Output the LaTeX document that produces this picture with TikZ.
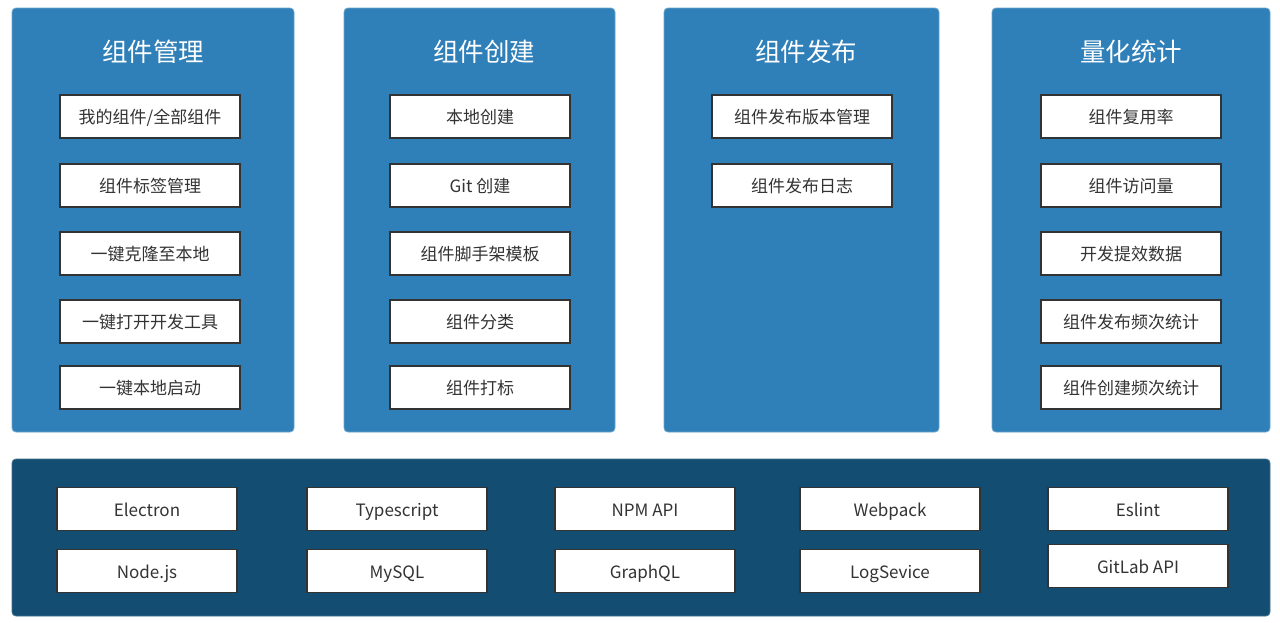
\documentclass[tikz,border=0pt]{standalone}
\usepackage{fontspec}
\setmainfont{Noto Sans CJK SC}
\definecolor{panelblue}{HTML}{2F7FB8}
\definecolor{paneldark}{HTML}{134D72}
\definecolor{boxedge}{HTML}{333333}
\definecolor{txt}{HTML}{333333}
\begin{document}
\begin{tikzpicture}[x=1pt,y=-1pt,
  panel/.style={fill=panelblue,draw=panelblue!70!white,line width=0.8pt,rounded corners=4pt},
  basepanel/.style={fill=paneldark,draw=paneldark!80!white,line width=0.8pt,rounded corners=4pt},
  title/.style={text=white,font=\fontsize{25.5}{28}\selectfont},
  item/.style={draw=boxedge,line width=1.8pt,fill=white,minimum width=180pt,minimum height=43pt,inner sep=0pt,text=txt,text height=14.5pt,text depth=0.5pt,font=\fontsize{17}{19}\selectfont}]
\useasboundingbox (0,0) rectangle (1280,622);
\fill[white] (0,0) rectangle (1280,622);
% panels
\draw[panel] (12,8) rectangle (294,432);
\draw[panel] (344,8) rectangle (615,432);
\draw[panel] (664,8) rectangle (939,432);
\draw[panel] (992,8) rectangle (1270,432);
\draw[basepanel] (12,459) rectangle (1270,616);
% titles
\node[title] (t1) at (153,52) {组件管理};
\node[title] (t2) at (484,52) {组件创建};
\node[title] (t3) at (806,52) {组件发布};
\node[title] (t4) at (1131,52) {量化统计};
% column 1
\node[item] (a1) at (150,116.5) {我的组件/全部组件};
\node[item] (a2) at (150,185.5) {组件标签管理};
\node[item] (a3) at (150,253.5) {一键克隆至本地};
\node[item] (a4) at (150,321.5) {一键打开开发工具};
\node[item] (a5) at (150,387.5) {一键本地启动};
% column 2
\node[item] (b1) at (480,116.5) {本地创建};
\node[item] (b2) at (480,185.5) {Git 创建};
\node[item] (b3) at (480,253.5) {组件脚手架模板};
\node[item] (b4) at (480,321.5) {组件分类};
\node[item] (b5) at (480,387.5) {组件打标};
% column 3
\node[item] (c1) at (802,116.5) {组件发布版本管理};
\node[item] (c2) at (802,185.5) {组件发布日志};
% column 4
\node[item] (d1) at (1131,116.5) {组件复用率};
\node[item] (d2) at (1131,185.5) {组件访问量};
\node[item] (d3) at (1131,253.5) {开发提效数据};
\node[item] (d4) at (1131,321.5) {组件发布频次统计};
\node[item] (d5) at (1131,387.5) {组件创建频次统计};
% base
\node[item] (e1) at (147,509) {Electron};
\node[item] (e2) at (147,571) {Node.js};
\node[item] (f1) at (397,509) {Typescript};
\node[item] (f2) at (397,571) {MySQL};
\node[item] (g1) at (645,509) {NPM API};
\node[item] (g2) at (645,571) {GraphQL};
\node[item] (h1) at (890,509) {Webpack};
\node[item] (h2) at (890,571) {LogSevice};
\node[item] (i1) at (1138,509) {Eslint};
\node[item] (i2) at (1138,566) {GitLab API};
\end{tikzpicture}
\end{document}
